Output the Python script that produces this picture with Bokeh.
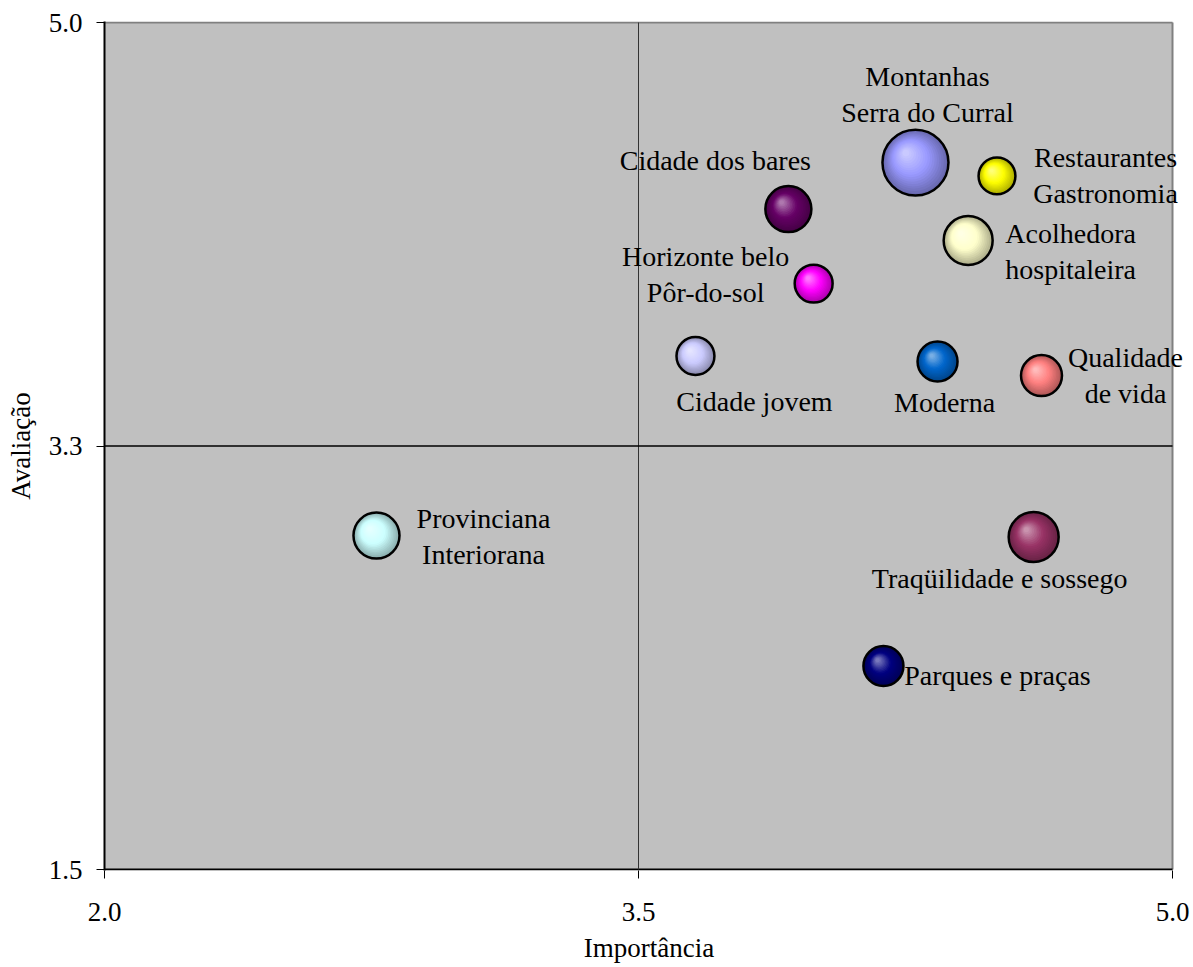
import numpy as np
from bokeh.plotting import figure
from bokeh.models import ColumnDataSource, Label, FixedTicker, Range1d
from bokeh.embed import file_html
from bokeh.resources import INLINE

# ---------------- data ----------------
label_line1 = ["Montanhas", "Restaurantes", "Cidade dos bares", "Acolhedora",
               "Horizonte belo", "Cidade jovem", "Moderna", "Qualidade",
               "Provinciana", "Traqüilidade e sossego", "Parques e praças"]
label_line2 = ["Serra do Curral", "Gastronomia", "", "hospitaleira",
               "Pôr-do-sol", "", "", "de vida",
               "Interiorana", "", ""]
importancia = [4.278, 4.507, 3.921, 4.426, 3.992, 3.660, 4.340, 4.632, 2.764, 4.610, 4.188]
avaliacao = [4.421, 4.366, 4.229, 4.099, 3.921, 3.622, 3.599, 3.541, 2.880, 2.874, 2.341]
bubble_size = [10.9, 3.4, 5.3, 6.0, 3.6, 3.6, 4.0, 4.2, 5.3, 6.25, 4.0]
bubble_colors = ["#9999FF", "#FFFF00", "#660066", "#FFFFCC", "#FF00FF", "#CCCCFF",
                 "#0066CC", "#FF8080", "#CCFFFF", "#993366", "#000080"]
x_ticks = [2.0, 3.5, 5.0]
x_tick_labels = ["2.0", "3.5", "5.0"]
y_ticks = [1.5, 3.25, 5.0]
y_tick_labels = ["1.5", "3.3", "5.0"]
x_cross = 3.5
y_cross = 3.25
X0, X1, Y0, Y1 = 2.0, 5.0, 1.5, 5.0

# ---------------- layout ----------------
W, H = 1193, 967
BL, BT = 104, 22
AREA_W, AREA_H = 1068, 847          # grey plotting area in px
PX_X = AREA_W / (X1 - X0)
PX_Y = AREA_H / (Y1 - Y0)
PAD = 1                               # px of slack above/below the grey area
FW = W - BL                           # frame extends to right window edge so labels are not clipped
FH = AREA_H + 2 * PAD
BB = H - BT - AREA_H - PAD
FONT = "Liberation Serif"
FS = "27px"
FS_LAB = "28px"

# label block offsets (screen px, +dy = down)
label_dx = [12, 108.5, -73, 102.5, -108, 59, 7, 84, 107, -34, 114]
label_dy = [-68.5, 0, -48.5, 10.5, -9.5, 45.5, 41, 0, 0.5, 41.5, 9.5]
LINE_GAP = 36


def hex2rgb(c):
    c = c.lstrip("#")
    return np.array([int(c[i:i + 2], 16) for i in (0, 2, 4)], dtype=float)


def rgb2hex(a):
    a = np.clip(np.round(a), 0, 255).astype(int)
    return "#%02x%02x%02x" % tuple(a)


def shade(base, s):
    b = hex2rgb(base)
    dark = b * 0.68
    light = b + (255 - b) * 0.45
    if s >= 0.55:
        t = (s - 0.55) / 0.45
        return rgb2hex(b + (dark - b) * t)
    t = (0.55 - s) / 0.43
    return rgb2hex(b + (light - b) * t)


x_range = Range1d(X0, X0 + FW / PX_X)
y_range = Range1d(Y0 - PAD / PX_Y, Y1 + PAD / PX_Y)
p = figure(width=W, height=H, output_backend="svg", toolbar_location=None,
           x_range=x_range, y_range=y_range,
           min_border_left=BL, min_border_right=0, min_border_top=BT - PAD, min_border_bottom=BB)
p.background_fill_color = "white"
p.border_fill_color = "white"
p.outline_line_color = None
p.xgrid.grid_line_color = None
p.ygrid.grid_line_color = None

for ax, ticks, labels in ((p.xaxis[0], x_ticks, x_tick_labels), (p.yaxis[0], y_ticks, y_tick_labels)):
    ax.ticker = FixedTicker(ticks=ticks)
    ax.major_label_overrides = {t: l for t, l in zip(ticks, labels)}
    ax.minor_tick_line_color = None
    ax.major_tick_in = 0
    ax.major_tick_out = 8
    ax.major_tick_line_color = "black"
    ax.axis_line_color = "black"
    ax.axis_line_width = 2
    ax.major_label_text_font = FONT
    ax.major_label_text_font_size = FS
    ax.major_label_text_color = "black"
    ax.axis_label_text_font = FONT
    ax.axis_label_text_font_size = FS
    ax.axis_label_text_font_style = "normal"
    ax.axis_label_text_color = "black"

p.xaxis.axis_line_color = None
p.xaxis.axis_label = "Importância"
p.yaxis.axis_label = "Avaliação"
p.xaxis.major_label_standoff = 24
p.xaxis.axis_label_standoff = 9
p.yaxis.major_label_standoff = 14
p.yaxis.axis_label_standoff = 10
p.xaxis.axis_label_text_align = "center"

# grey plotting area and its borders (centered on the real plot area, not the padded frame)
p.quad(left=[X0], right=[X1], bottom=[Y0], top=[Y1], fill_color="#C0C0C0", line_color=None)
p.segment(x0=[X0, X1], y0=[Y1, Y0], x1=[X1, X1], y1=[Y1, Y1], line_color="#808080", line_width=2)
p.segment(x0=[X0], y0=[Y0], x1=[X1], y1=[Y0], line_color="black", line_width=2)
p.segment(x0=[x_cross], y0=[Y0], x1=[x_cross], y1=[Y1], line_color="#333333", line_width=1)
p.segment(x0=[X0], y0=[y_cross], x1=[X1], y1=[y_cross], line_color="black", line_width=1.6)

# ---------------- bubbles with shaded (3D-like) fill ----------------
layers = np.linspace(1.0, 0.1, 18)
gx, gy, gs, gc = [], [], [], []
radii = [10.0 * np.sqrt(v) for v in bubble_size]
for xi, yi, r, col in zip(importancia, avaliacao, radii, bubble_colors):
    for s in layers:
        off = 0.32 * r * (1 - s)
        gx.append(xi - off / PX_X)
        gy.append(yi + off / PX_Y)
        gs.append(2 * r * s)
        gc.append(shade(col, s))
src_fill = ColumnDataSource(dict(x=gx, y=gy, size=gs, color=gc))
p.scatter("x", "y", size="size", fill_color="color", line_color=None, source=src_fill)

src_out = ColumnDataSource(dict(x=importancia, y=avaliacao, size=[2 * r for r in radii]))
p.scatter("x", "y", size="size", fill_color=None, line_color="black", line_width=2.5, source=src_out)

# ---------------- data labels ----------------
for i in range(len(importancia)):
    lines = [label_line1[i]] + ([label_line2[i]] if label_line2[i] else [])
    n = len(lines)
    for k, txt in enumerate(lines):
        dy = label_dy[i] + (k - (n - 1) / 2) * LINE_GAP
        p.add_layout(Label(x=importancia[i], y=avaliacao[i], text=txt,
                           x_offset=label_dx[i], y_offset=-dy,
                           text_align="center", text_baseline="middle", text_font=FONT,
                           text_font_size=FS_LAB, text_color="black"))

open("out.html", "w").write(file_html(p, INLINE))
